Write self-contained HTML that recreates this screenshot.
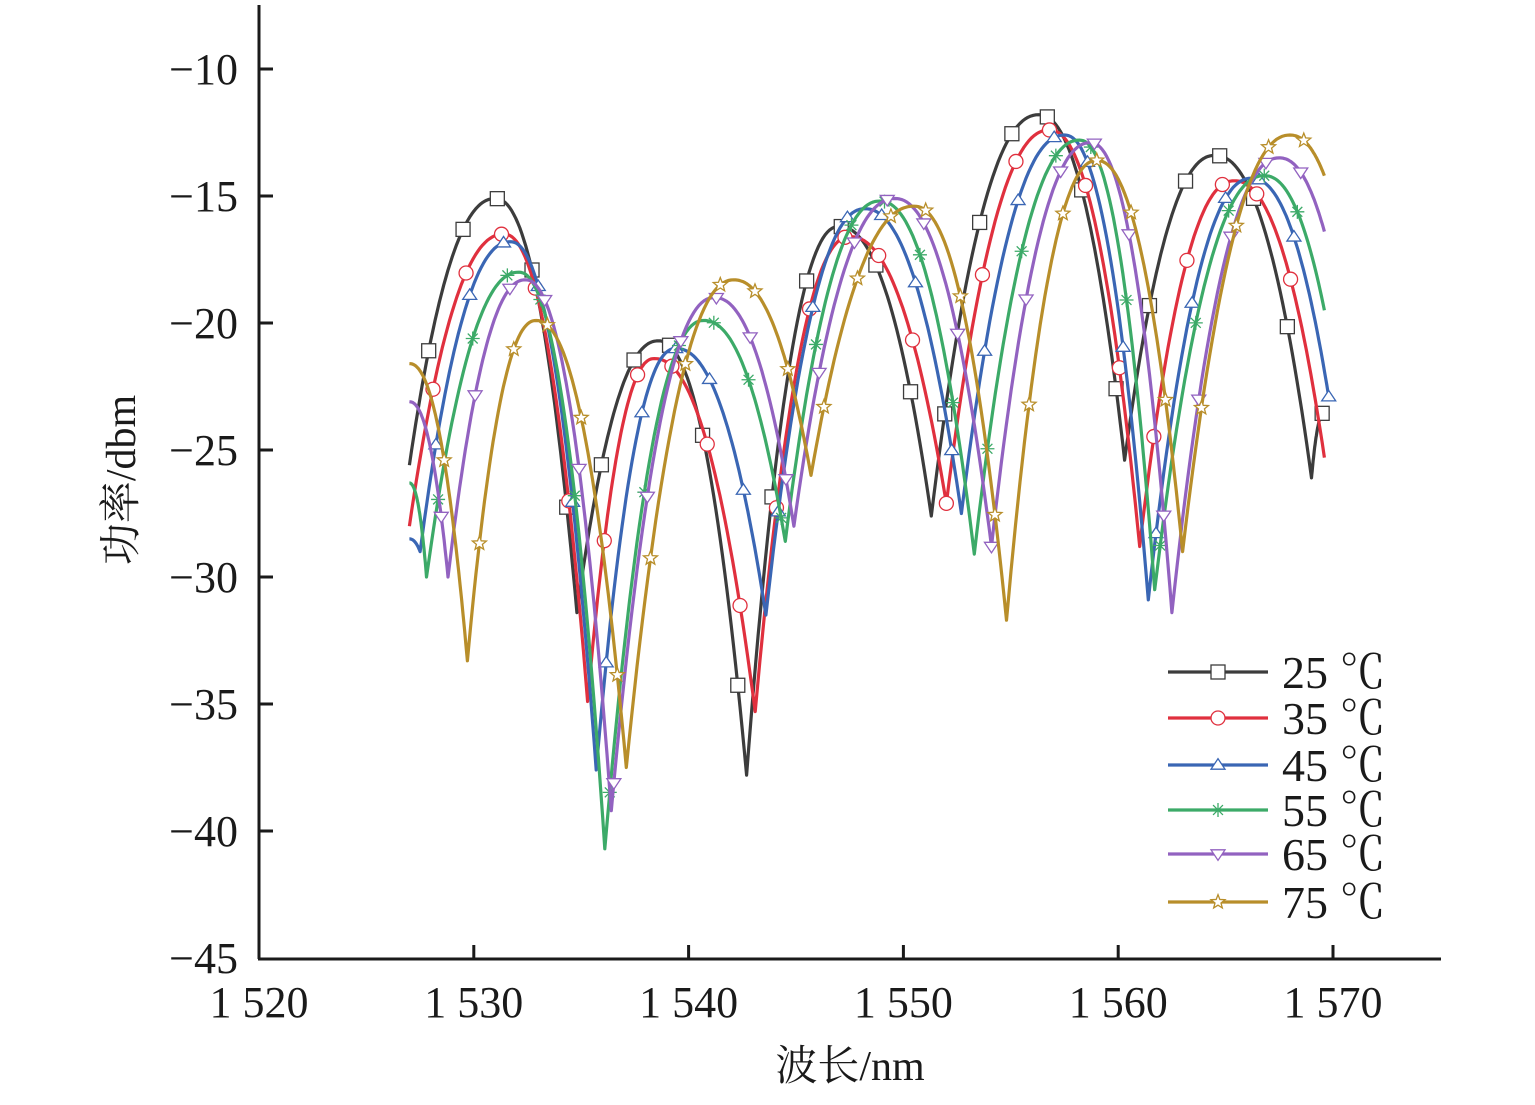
<!DOCTYPE html>
<html><head><meta charset="utf-8">
<style>
html,body{margin:0;padding:0;background:#fff;}
svg text{font-family:"Liberation Serif","Noto Serif CJK SC",serif;fill:#1a1a1a;}
</style></head>
<body>
<svg id="chart" width="1535" height="1100" viewBox="0 0 1535 1100" xmlns="http://www.w3.org/2000/svg">
<g id="axes"></g>
<g id="plot"></g>
<g id="legend"></g>
<text transform="translate(135,480) rotate(-90)" text-anchor="middle" font-size="42">功率/dbm</text>
<text x="850" y="1080" text-anchor="middle" font-size="42">波长/nm</text>
</svg>
<script>
const xTicks = [1520,1530,1540,1550,1560,1570];
const xTickLabels = ["1 520","1 530","1 540","1 550","1 560","1 570"];
const yTicks = [-10,-15,-20,-25,-30,-35,-40,-45];
const yTickLabels = ["\u221210","\u221215","\u221220","\u221225","\u221230","\u221235","\u221240","\u221245"];
const seriesNames = ["25 \u2103","35 \u2103","45 \u2103","55 \u2103","65 \u2103","75 \u2103"];
const wl25 = [1527.0,1531.0,1534.8,1538.6,1542.7,1547.0,1551.3,1556.3,1560.3,1564.5,1569.0,1569.6];
const pw25 = [-25.6,-15.1,-31.4,-20.7,-37.8,-16.2,-27.6,-11.8,-25.4,-13.4,-26.1,-23.5];
const wl35 = [1527.0,1531.4,1535.3,1538.4,1543.1,1547.5,1552.0,1556.8,1561.0,1565.4,1569.6];
const pw35 = [-28.0,-16.5,-34.9,-21.4,-35.3,-16.6,-27.1,-12.4,-28.8,-14.4,-25.3];
const wl45 = [1527.0,1527.5,1531.7,1535.7,1539.4,1543.6,1548.2,1552.7,1557.5,1561.4,1566.2,1569.8];
const pw45 = [-28.5,-29.0,-16.8,-37.6,-21.0,-31.5,-15.5,-27.5,-12.6,-30.9,-14.3,-22.9];
const wl55 = [1527.0,1527.8,1532.1,1536.1,1540.7,1544.5,1548.9,1553.3,1558.2,1561.7,1566.8,1569.6];
const pw55 = [-26.3,-30.0,-18.0,-40.7,-19.9,-28.6,-15.2,-29.1,-12.8,-30.5,-14.2,-19.5];
const wl65 = [1527.0,1528.8,1532.4,1536.4,1541.2,1544.9,1549.6,1554.1,1558.7,1562.5,1567.5,1569.6];
const pw65 = [-23.1,-30.0,-18.3,-39.2,-19.0,-28.0,-15.1,-28.8,-12.9,-31.4,-13.5,-16.4];
const wl75 = [1527.0,1529.7,1532.9,1537.1,1542.1,1545.7,1550.5,1554.8,1559.0,1563.0,1568.0,1569.6];
const pw75 = [-21.6,-33.3,-19.9,-37.5,-18.3,-26.0,-15.4,-31.7,-13.6,-29.0,-12.6,-14.2];

const seriesWl = [wl25,wl35,wl45,wl55,wl65,wl75];
const seriesPw = [pw25,pw35,pw45,pw55,pw65,pw75];
const colors = ["#3c3c3c","#e0303e","#3a66b4","#3caa68","#9262c0","#b88e2a"];
const markers = ["square","circle","tri","star6","vtri","star5"];

const X0=259, Y0=959;
function xs(v){return 259 + (v-1520)*21.48;}
function ys(v){return 69 + (-10 - v)*25.4;}
const NS="http://www.w3.org/2000/svg";
function mk(tag,attrs,parent){const e=document.createElementNS(NS,tag);for(const k in attrs)e.setAttribute(k,attrs[k]);parent.appendChild(e);return e;}

const axes=document.getElementById('axes');
let e=mk('line',{x1:X0,y1:5,x2:X0,y2:Y0,stroke:'#1a1a1a','stroke-width':3},axes);


e=mk('line',{x1:X0-1,y1:Y0,x2:1441,y2:Y0,stroke:'#1a1a1a','stroke-width':3},axes);


xTicks.forEach((t,i)=>{
  const x=xs(t);
  if(i>0){const l=mk('line',{x1:x,y1:Y0,x2:x,y2:Y0-14,stroke:'#1a1a1a','stroke-width':3},axes);
  
  }
  const tx=mk('text',{x:x,y:1017,'text-anchor':'middle','font-size':44},axes);
  tx.textContent=xTickLabels[i];
  
  
});
yTicks.forEach((t,i)=>{
  const y=ys(t);
  if(i<yTicks.length-1){const l=mk('line',{x1:X0,y1:y,x2:X0+14,y2:y,stroke:'#1a1a1a','stroke-width':3},axes);
  
  }
  const tx=mk('text',{x:238,y:y+15,'text-anchor':'end','font-size':44},axes);
  tx.textContent=yTickLabels[i];
  
  
});

function curvePoints(wl,pw){
  const pts=[];
  for(let i=0;i<wl.length-1;i++){
    const a=pw[i], b=pw[i+1];
    const N=40;
    for(let k=(i===0?0:1);k<=N;k++){
      const t=k/N;
      let f;
      if(b<a){ f=Math.pow(t,2.2); }           // falling toward trough: sharp bottom
      else { f=1-Math.pow(1-t,2.2); }          // rising from trough
      pts.push([wl[i]+(wl[i+1]-wl[i])*t, a+(b-a)*f]);
    }
  }
  return pts;
}
function markerShape(type,x,y,col,parent){
  const s=7; let el;
  const common={fill:'#fff',stroke:col,'stroke-width':1.3};
  if(type==='square') el=mk('rect',Object.assign({x:x-s,y:y-s,width:2*s,height:2*s},common),parent);
  else if(type==='circle') el=mk('circle',Object.assign({cx:x,cy:y,r:s},common),parent);
  else if(type==='tri') el=mk('polygon',Object.assign({points:`${x-s},${y+s*0.6} ${x+s},${y+s*0.6} ${x},${y-s*0.9}`},common),parent);
  else if(type==='vtri') el=mk('polygon',Object.assign({points:`${x-s},${y-s*0.6} ${x+s},${y-s*0.6} ${x},${y+s*0.9}`},common),parent);
  else if(type==='star6'){let d='';for(let k=0;k<4;k++){const a=k*Math.PI/4;d+=`M${x-s*Math.cos(a)},${y-s*Math.sin(a)}L${x+s*Math.cos(a)},${y+s*Math.sin(a)}`;}
    el=mk('path',{d:d,stroke:col,'stroke-width':1.3,fill:'none'},parent);}
  else {let p=[];for(let k=0;k<10;k++){const r=k%2?s*0.45:s*1.05;const a=-Math.PI/2+k*Math.PI/5;p.push(`${x+r*Math.cos(a)},${y+r*Math.sin(a)}`);}
    el=mk('polygon',Object.assign({points:p.join(' ')},common),parent);}
  return el;
}

const plot=document.getElementById('plot');
seriesWl.forEach((wl,si)=>{
  const g=mk('g',{},plot);
  
  
  const pts=curvePoints(wl,seriesPw[si]);
  const p=mk('path',{d:'M'+pts.map(q=>xs(q[0]).toFixed(1)+','+ys(q[1]).toFixed(1)).join('L'),fill:'none',stroke:colors[si],'stroke-width':3.2,'stroke-linejoin':'round'},g);
  
  
  // markers every 1.6 nm
  const start=wl[0]+0.9+si*0.15;
  for(let m=start;m<wl[wl.length-1];m+=1.6){
    let best=pts[0];for(const q of pts){if(Math.abs(q[0]-m)<Math.abs(best[0]-m))best=q;}
    const el=markerShape(markers[si],xs(best[0]),ys(best[1]),colors[si],g);
    
    
  }
});

const legend=document.getElementById('legend');
const legY=[672,718,765,810,854,902];
seriesNames.forEach((n,i)=>{
  const g=mk('g',{},legend);
  
  
  mk('line',{x1:1168,y1:legY[i],x2:1268,y2:legY[i],stroke:colors[i],'stroke-width':3.2},g);
  markerShape(markers[i],1218,legY[i],colors[i],g);
  const t=mk('text',{x:1282,y:legY[i]+16,'font-size':46},g);
  t.textContent=n;
});
</script>
</body></html>
